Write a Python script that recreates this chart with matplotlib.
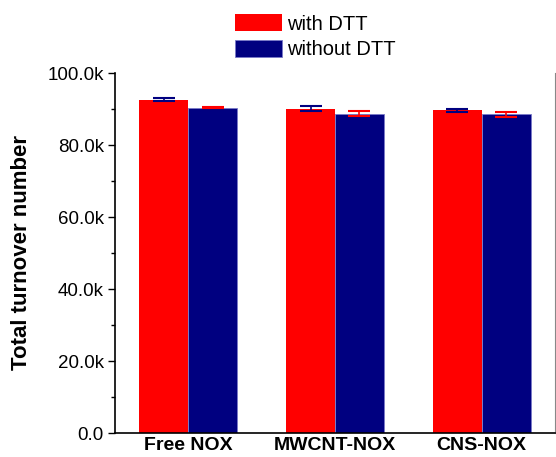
import numpy as np
import matplotlib
matplotlib.use('Agg')
import matplotlib.pyplot as plt
from matplotlib.ticker import FuncFormatter, MultipleLocator

plt.rcParams['font.family'] = ['Liberation Sans', 'DejaVu Sans']

groups = ['Free NOX', 'MWCNT-NOX', 'CNS-NOX']
# 单位: k
with_dtt = [92.6, 90.1, 89.6]
with_err = [0.45, 0.7, 0.5]
without_dtt = [90.4, 88.7, 88.5]
without_err = [0.2, 0.75, 0.6]

red = '#ff0000'
navy = '#000080'

fig = plt.figure(figsize=(5.56, 4.57), dpi=100)
ax = fig.add_axes([115/556, 1-433/457, 440/556, 360/457])

x = np.arange(len(groups))
w = 1/3
ax.bar(x - w/2, with_dtt, w, color=red, edgecolor='none', label='with DTT')
ax.bar(x + w/2, without_dtt, w, color=navy, edgecolor='#7a7ac8', linewidth=0.6,
       label='without DTT')
ax.errorbar(x - w/2, with_dtt, yerr=with_err, fmt='none', ecolor=navy,
            elinewidth=1.2, capsize=8, capthick=1.5)
ax.errorbar(x + w/2, without_dtt, yerr=without_err, fmt='none', ecolor=red,
            elinewidth=1.2, capsize=8, capthick=1.5)

ax.set_xlim(-0.5, 2.5)
ax.set_ylim(0, 100)
ax.set_xticks(x)
ax.set_xticklabels(groups, fontsize=14, fontweight='bold')
ax.tick_params(axis='x', length=0, pad=3)
ax.yaxis.set_major_locator(MultipleLocator(20))
ax.yaxis.set_minor_locator(MultipleLocator(10))
ax.yaxis.set_major_formatter(FuncFormatter(lambda v, p: '0.0' if v == 0 else '%.1fk' % v))
ax.tick_params(axis='y', which='major', direction='out', length=5, width=1, labelsize=13.5, pad=3)
ax.tick_params(axis='y', which='minor', direction='out', length=3, width=1)
ax.set_ylabel('Total turnover number', fontsize=16, fontweight='bold', labelpad=11)

ax.spines['top'].set_visible(False)
ax.spines['right'].set_color('#888888')
ax.spines['left'].set_linewidth(1.2)
ax.spines['bottom'].set_linewidth(1.2)

fig.legend(loc='upper left', bbox_to_anchor=(227/556, 1-6/457), frameon=False,
           fontsize=14.5, handlelength=2.35, handleheight=0.95, handletextpad=0.22,
           labelspacing=0.3, borderaxespad=0)

plt.savefig('out.png', dpi=100)
